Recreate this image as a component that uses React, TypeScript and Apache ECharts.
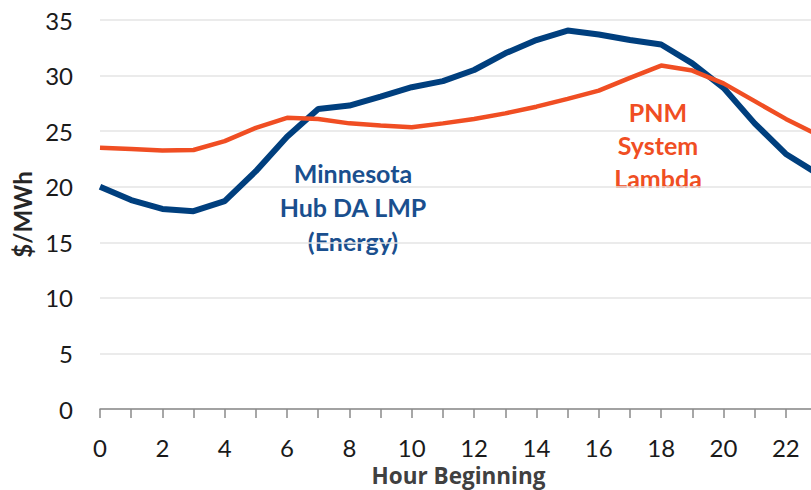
import React, { useEffect, useRef } from "react";
import * as echarts from "echarts";

const hours = Array.from({ length: 24 }, (_, i) => String(i));
const minnesotaLmp = [20.0, 18.8, 18.0, 17.8, 18.7, 21.4, 24.5, 27.0, 27.3, 28.1, 28.95, 29.5, 30.5, 32.0, 33.2, 34.05, 33.7, 33.2, 32.8, 31.1, 28.9, 25.7, 22.95, 21.2];
const pnmLambda = [23.5, 23.4, 23.25, 23.3, 24.1, 25.3, 26.2, 26.1, 25.7, 25.5, 25.35, 25.7, 26.1, 26.6, 27.2, 27.9, 28.65, 29.8, 30.9, 30.45, 29.3, 27.7, 26.1, 24.7];
const yTicks = { min: 0, max: 35, interval: 5 };

const FONT = "Lato, 'Open Sans', sans-serif";
const TITLE_FONT = "'Open Sans', Lato, sans-serif";
const BLUE = "#003f7e";
const BLUE_TEXT = "#1a4f8e";
const ORANGE = "#f04e23";

export default function App() {
  const ref = useRef<HTMLDivElement>(null);
  useEffect(() => {
    if (!ref.current) return;
    document.documentElement.style.overflow = "hidden";
    document.body.style.overflow = "hidden";
    document.body.style.margin = "0";
    const chart = echarts.init(ref.current, null, { renderer: "svg", width: 811, height: 490 });
    chart.setOption({
      animation: false,
      backgroundColor: "#ffffff",
      grid: { left: 100, right: -6, top: 20, bottom: 81, containLabel: false, outerBoundsMode: "none" },
      xAxis: {
        type: "category",
        data: hours,
        boundaryGap: false,
        name: "Hour Beginning",
        nameLocation: "middle",
        nameGap: 53,
        nameTextStyle: { fontFamily: TITLE_FONT, fontWeight: "bold", fontSize: 22.5, color: "#404040" },
        axisLine: { lineStyle: { color: "#8a8a8a", width: 1.5 } },
        axisTick: { show: true, interval: 0, length: 9, lineStyle: { color: "#8a8a8a", width: 1.5 } },
        axisLabel: { interval: 1, margin: 26, fontFamily: FONT, fontSize: 24, color: "#1a1a1a" },
        splitLine: { show: false },
      },
      yAxis: {
        type: "value",
        min: yTicks.min,
        max: yTicks.max,
        interval: yTicks.interval,
        name: "$/MWh",
        nameLocation: "middle",
        nameGap: 66,
        nameRotate: 90,
        nameTextStyle: { fontFamily: FONT, fontWeight: "bold", fontSize: 24, color: "#262626" },
        axisLine: { show: false },
        axisTick: { show: false },
        axisLabel: { margin: 27, fontFamily: FONT, fontSize: 24, color: "#1a1a1a" },
        splitLine: { lineStyle: { color: "#e4e4e4", width: 1.5 } },
      },
      series: [
        {
          name: "Minnesota Hub DA LMP (Energy)",
          type: "line",
          data: minnesotaLmp,
          symbol: "none",
          lineStyle: { color: BLUE, width: 6 },
        },
        {
          name: "PNM System Lambda",
          type: "line",
          data: pnmLambda,
          symbol: "none",
          lineStyle: { color: ORANGE, width: 4.5 },
        },
      ],
      graphic: [
        {
          type: "text",
          x: 353,
          y: 156,
          style: {
            text: "Minnesota\nHub DA LMP\n(Energy)",
            align: "center",
            verticalAlign: "top",
            fill: BLUE_TEXT,
            font: `bold 25px ${FONT}`,
            lineHeight: 34,
          },
        },
        {
          type: "text",
          x: 658,
          y: 95,
          style: {
            text: "PNM\nSystem\nLambda",
            align: "center",
            verticalAlign: "top",
            fill: ORANGE,
            font: `bold 25px ${FONT}`,
            lineHeight: 33,
          },
        },
      ],
    });
    return () => chart.dispose();
  }, []);
  return (
    <div style={{ position: "fixed", left: 0, top: 0, width: 811, height: 490, overflow: "hidden" }}>
      <div ref={ref} style={{ width: 811, height: 490 }} />
    </div>
  );
}
